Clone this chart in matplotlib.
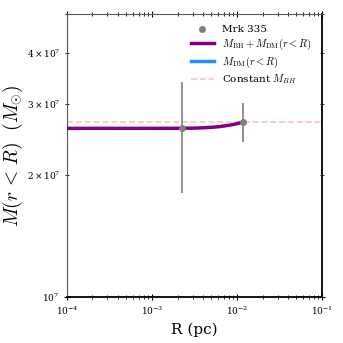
import numpy as np
import matplotlib
matplotlib.use("Agg")
import matplotlib.pyplot as plt

plt.rcParams['font.family'] = 'serif'
plt.rcParams['font.serif'] = ['DejaVu Serif']
plt.rcParams['mathtext.fontset'] = 'cm'

# observed points (Mrk 335)
obs_r = [2.25e-3, 1.17e-2]
obs_m = [2.61e7, 2.70e7]
obs_lo = [1.81e7, 2.41e7]
obs_hi = [3.40e7, 3.01e7]

# enclosed mass curves
r_curve = [1e-4, 5e-4, 1e-3, 2e-3, 3e-3, 4e-3, 5e-3, 6e-3, 7e-3, 8e-3, 9e-3, 1e-2, 1.1e-2, 1.2e-2]
m_total = [2.610e7, 2.610e7, 2.610e7, 2.611e7, 2.613e7, 2.618e7, 2.625e7, 2.634e7, 2.645e7, 2.656e7, 2.668e7, 2.681e7, 2.694e7, 2.708e7]
m_dm = [1e2, 1.2e4, 5e4, 1.6e5, 3.2e5, 5.0e5, 7.0e5, 9.0e5, 1.1e6, 1.3e6, 1.5e6, 1.7e6, 1.85e6, 2.0e6]
m_bh = 2.70e7

fig = plt.figure(figsize=(3.43, 3.43), dpi=100)
ax = fig.add_axes([0.195, 0.134, 0.744, 0.825])

yerr = [np.array(obs_m) - np.array(obs_lo), np.array(obs_hi) - np.array(obs_m)]
ax.errorbar(obs_r, obs_m, yerr=yerr, fmt='o', color='gray', ms=4, elinewidth=1.2, zorder=4)
ax.scatter([], [], color='gray', s=16, label='Mrk 335')
ax.plot(r_curve, m_total, color='purple', lw=2.5, label=r'$M_{\rm BH}+M_{\rm DM}(r<R)$', zorder=3)
ax.plot(r_curve, m_dm, color='dodgerblue', lw=2.5, label=r'$M_{\rm DM}(r<R)$')
ax.axhline(m_bh, color='pink', ls='--', lw=1.2, label=r'Constant $M_{BH}$')

ax.set_xscale('log')
ax.set_yscale('log')
ax.set_xlim(1e-4, 1e-1)
ax.set_ylim(1e7, 5e7)

ax.set_xlabel('R (pc)', fontsize=11)
ax.set_ylabel(r'$M(r\,<\,R)\ \ (M_{\odot})$', fontsize=14)
ax.yaxis.set_label_coords(-0.165, 0.5)
ax.tick_params(which='both', direction='inout', top=True, right=True, labelsize=6.5)
ax.tick_params(which='major', length=4)
ax.tick_params(which='minor', length=2.5)

for s in ['left', 'top']:
    ax.spines[s].set_color('0.35')
    ax.spines[s].set_linewidth(0.8)
for s in ['bottom', 'right']:
    ax.spines[s].set_color('black')
    ax.spines[s].set_linewidth(1.3)

ax.legend(loc='upper right', frameon=False, fontsize=7.5, handlelength=2.2,
          borderaxespad=0.6, labelspacing=0.25)

fig.savefig('out.png', dpi=100)
